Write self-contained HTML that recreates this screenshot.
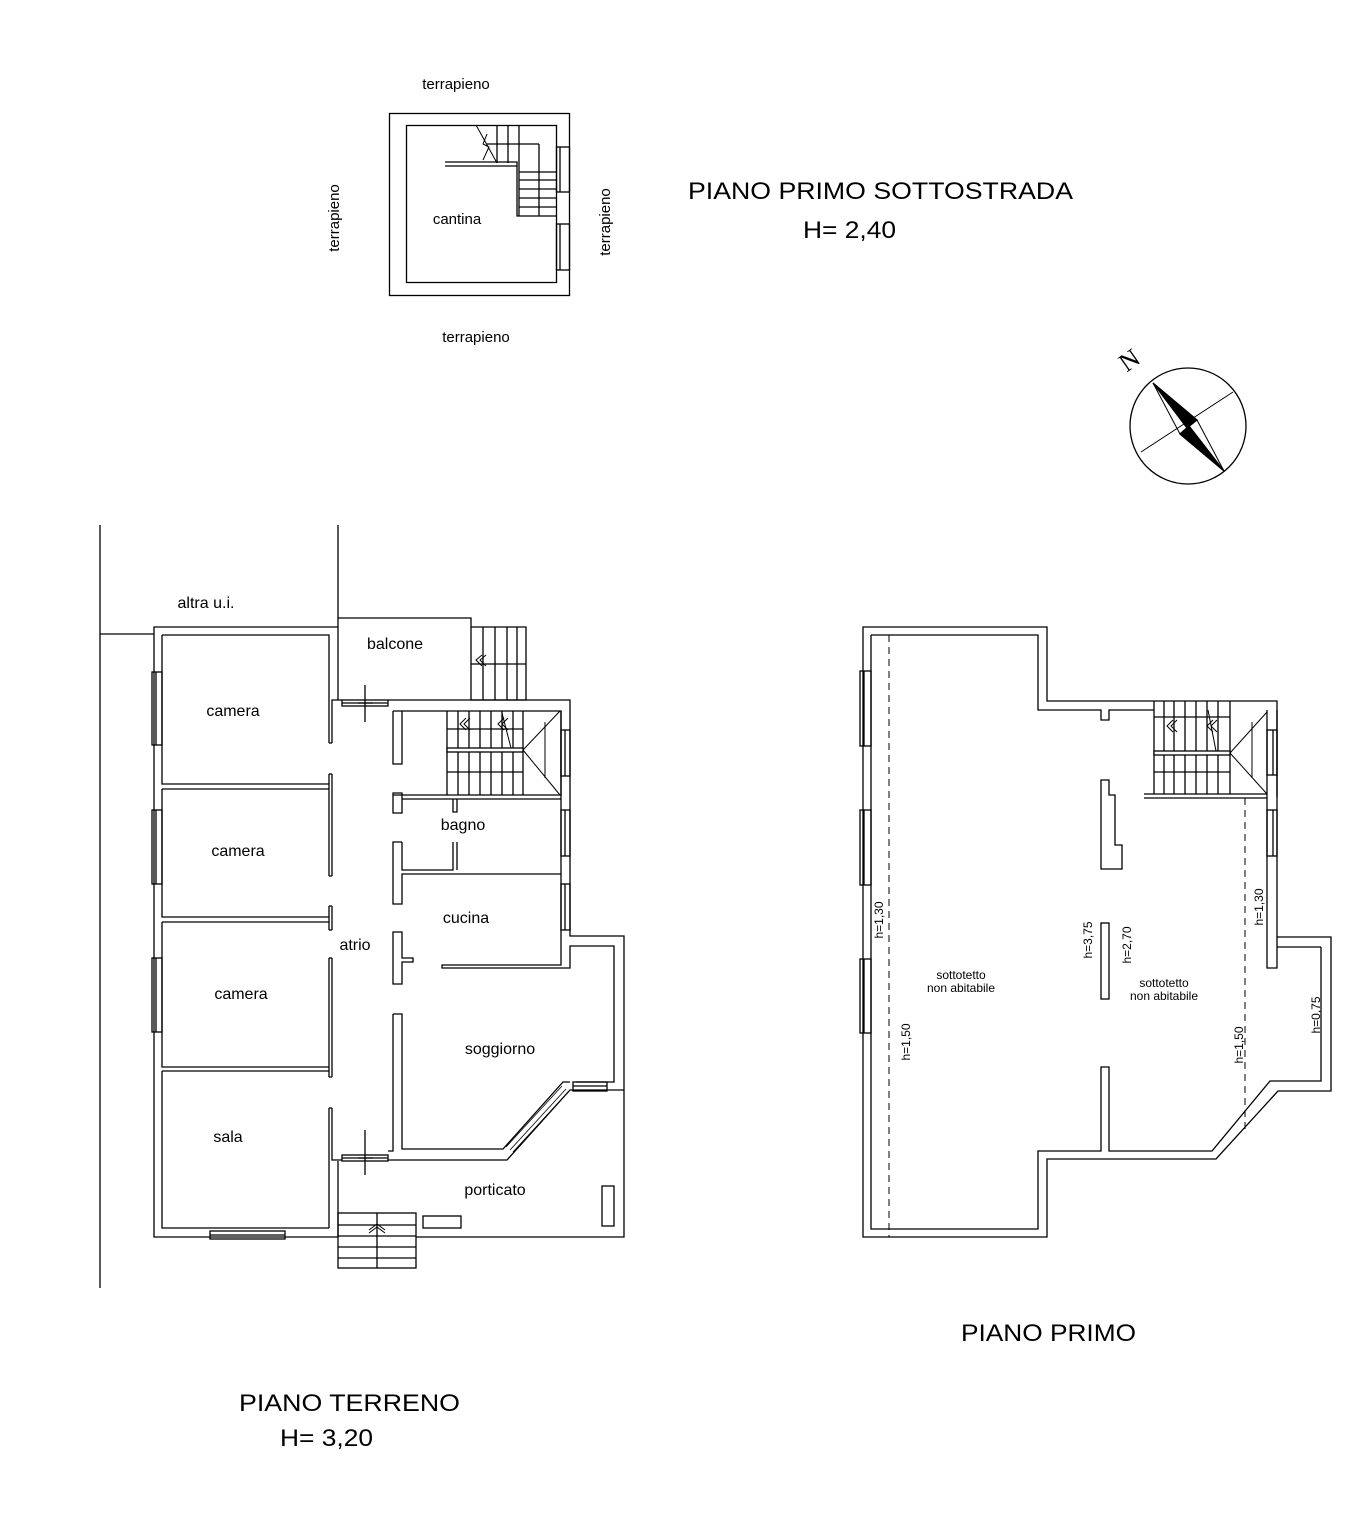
<!DOCTYPE html>
<html><head><meta charset="utf-8"><style>
html,body{margin:0;padding:0;background:#fff}
svg{display:block}
text{font-family:"Liberation Sans",sans-serif;fill:#000}
</style></head><body>
<svg width="1350" height="1535" viewBox="0 0 1350 1535" xmlns="http://www.w3.org/2000/svg">
<g fill="none" stroke="#000" stroke-width="1.3">
<!-- ===== CANTINA ===== -->
<rect x="389.5" y="113.5" width="180" height="182"/>
<rect x="406.5" y="125.5" width="150" height="157"/>
<path d="M445 162H517V216H556M445 166H517M497 125V163M508 125V163M519 125V216M539 144V216M487 144H539M519 172H556M519 180H556M519 189H556M519 198H556M519 207H556"/>
<path d="M476 125L497 163M487 134L483 144L489 147L483 160" stroke-width="1"/>
<rect x="556.5" y="147" width="13" height="45"/><line x1="560" y1="147" x2="560" y2="192"/>
<rect x="556.5" y="224" width="13" height="46"/><line x1="560" y1="224" x2="560" y2="270"/>

<!-- ===== GROUND FLOOR ===== -->
<path d="M100 525V1288M338 525V618M100 634H154"/>
<path d="M338 627H154V1237H338"/>
<path d="M162 635H329V743M329 774V876M329 906V930M329 958V1077M329 1108V1228"/>
<path d="M162 635V784H329M162 789H329M162 789V917H329M162 922H329M162 922V1067H329M162 1071H329M162 1071V1228H329"/>
<path d="M332 743V700H342M332 774V876M332 906V930M332 958V1077M332 1108V1160H342M329 743H332M329 774H332M329 876H332M329 906H332M329 930H332M329 958H332M329 1077H332M329 1108H332"/>
<!-- balcone -->
<path d="M338 700V618H471V700M471 627H526V700H471"/>
<path d="M483 627V700M495 627V700M507 627V700M517 627V700M471 664H526"/>
<path d="M482 655L476 660L482 666M486 655L480 660L486 666" stroke-width="1"/>
<rect x="342" y="700" width="46" height="6"/><line x1="342" y1="703" x2="388" y2="703"/>
<path d="M365 685V722M358 703H373"/>
<!-- right block -->
<path d="M388 700H570V936H624V1237H416"/>
<path d="M393 711H561V795H393M393 711V764H402V711M393 793H402V813H393Z"/>
<path d="M402 799H561M402 842H393V904H402V874H561M402 842V870H453V842M457 799V812H453V799M457 842V870"/>
<path d="M561 711V965H442V968H570V946H614V1082H576"/>
<path d="M393 932H402V958H413V962H402V984H393Z"/>
<path d="M393 1014H402V1149H503L563 1082H570"/>
<path d="M393 1014V1151H388M388 1160H507L570 1090H624"/>
<path d="M506 1147L562 1086M510 1150L566 1089M513 1152L569 1091" stroke-width="0.8"/>
<rect x="573" y="1082" width="34" height="9"/><line x1="573" y1="1086" x2="607" y2="1086"/>
<rect x="342" y="1155" width="46" height="6"/><line x1="342" y1="1158" x2="388" y2="1158"/>
<path d="M365 1130V1175M358 1158H373"/>
<path d="M338 1161V1237"/>
<!-- stairs interior -->
<path d="M447 711V795M458 711V795M469 711V795M480 711V795M491 711V795M502 711V795M513 711V795M523 711V795M447 729H523M447 772H523"/>
<rect x="447" y="748" width="76" height="4" fill="#fff"/>
<path d="M523 750L560 711M523 750L560 795M545 722V778M502 713L511 748" stroke-width="1"/>
<path d="M466 718L460 724L466 730M470 718L464 724L470 730M504 718L498 724L504 730M508 718L502 724L508 730" stroke-width="1"/>
<!-- windows ground -->
<rect x="152" y="672" width="10" height="73"/><line x1="156" y1="672" x2="156" y2="745"/>
<rect x="152" y="810" width="10" height="74"/><line x1="156" y1="810" x2="156" y2="884"/>
<rect x="152" y="958" width="10" height="74"/><line x1="156" y1="958" x2="156" y2="1032"/>
<rect x="210" y="1231" width="75" height="8"/><line x1="210" y1="1235" x2="285" y2="1235"/>
<rect x="561" y="730" width="9" height="46"/><line x1="565" y1="730" x2="565" y2="776"/>
<rect x="561" y="810" width="9" height="46"/><line x1="565" y1="810" x2="565" y2="856"/>
<rect x="561" y="884" width="9" height="46"/><line x1="565" y1="884" x2="565" y2="930"/>
<!-- porticato -->
<rect x="338" y="1213" width="78" height="55"/>
<path d="M338 1225H416M338 1236H416M338 1247H416M338 1258H416M377 1213V1268"/>
<path d="M369 1230L377 1224L385 1230M369 1233L377 1227L385 1233" stroke-width="1"/>
<rect x="423" y="1216" width="38" height="12"/>
<rect x="602" y="1186" width="12" height="40"/>

<!-- ===== FIRST FLOOR ===== -->
<path d="M863 627H1047V701H1277V937H1331V1091L1278 1091L1216 1159H1047V1237H863Z"/>
<path d="M871 635H1038V710H1101V720H1109V710H1154"/>
<path d="M1267 710V797M1267 810V856M1267 797V968H1277V937M1277 710V797"/>
<path d="M1321 947H1277M1321 947V1081H1270L1212 1151H1109V1067H1101V1151H1038V1229H871V635"/>
<path d="M1154 701V794M1144 794H1267M1144 798H1245M1245 798H1267"/>
<path d="M1164 701V794M1174 701V794M1185 701V794M1196 701V794M1207 701V794M1218 701V794M1230 701V794M1154 717H1230M1154 772H1230"/>
<rect x="1154" y="751" width="76" height="4" fill="#fff"/>
<path d="M1230 753L1267 712M1230 753L1267 794M1252 722V778M1208 710L1216 751" stroke-width="1"/>
<path d="M1173 720L1167 726L1173 732M1177 720L1171 726L1177 732M1213 720L1207 726L1213 732M1217 720L1211 726L1217 732" stroke-width="1"/>
<path d="M1101 780H1109V795H1115V845H1122V869H1101Z"/>
<rect x="1101" y="923" width="8" height="76"/>
<path d="M889 635V1237M1245 798V1130" stroke-dasharray="7,5" stroke-width="1"/>
<rect x="860" y="671" width="11" height="75"/><line x1="864" y1="671" x2="864" y2="746"/>
<rect x="860" y="810" width="11" height="75"/><line x1="864" y1="810" x2="864" y2="885"/>
<rect x="860" y="959" width="11" height="74"/><line x1="864" y1="959" x2="864" y2="1033"/>
<rect x="1267" y="730" width="10" height="45"/><line x1="1273" y1="730" x2="1273" y2="775"/>
<rect x="1267" y="810" width="10" height="46"/><line x1="1273" y1="810" x2="1273" y2="856"/>

<!-- ===== COMPASS ===== -->
<circle cx="1188" cy="426" r="58"/>
<path d="M1141 452L1233 392" stroke-width="1"/>
<path d="M1153 383L1197 420L1224 471L1180 434Z" stroke-width="1"/>
<path d="M1153 383L1197 420L1187 428Z" fill="#000"/>
<path d="M1224 471L1180 434L1189 426Z" fill="#000"/>
</g>
<text x="1132" y="368" font-size="26" transform="rotate(-35 1132 364)" text-anchor="middle" style="font-family:'Liberation Serif',serif">N</text>

<g font-size="15" text-anchor="middle">
<text x="456" y="89">terrapieno</text>
<text x="476" y="342">terrapieno</text>
<text x="457" y="224">cantina</text>
<text transform="translate(339 218) rotate(-90)">terrapieno</text>
<text transform="translate(610 222) rotate(-90)">terrapieno</text>
</g>
<g font-size="16" text-anchor="middle">
<text x="206" y="608">altra u.i.</text>
<text x="395" y="649">balcone</text>
<text x="233" y="716">camera</text>
<text x="238" y="856">camera</text>
<text x="241" y="999">camera</text>
<text x="228" y="1142">sala</text>
<text x="355" y="950">atrio</text>
<text x="463" y="830">bagno</text>
<text x="466" y="923">cucina</text>
<text x="500" y="1054">soggiorno</text>
<text x="495" y="1195">porticato</text>
</g>
<g font-size="12" text-anchor="middle">
<text x="961" y="979">sottotetto</text>
<text x="961" y="992">non abitabile</text>
<text x="1164" y="987">sottotetto</text>
<text x="1164" y="1000">non abitabile</text>
<text transform="translate(883 920) rotate(-90)">h=1,30</text>
<text transform="translate(910 1042) rotate(-90)">h=1,50</text>
<text transform="translate(1092 940) rotate(-90)">h=3,75</text>
<text transform="translate(1131 945) rotate(-90)">h=2,70</text>
<text transform="translate(1263 907) rotate(-90)">h=1,30</text>
<text transform="translate(1243 1045) rotate(-90)">h=1,50</text>
<text transform="translate(1320 1015) rotate(-90)">h=0,75</text>
</g>
<g font-size="24">
<text x="688" y="199" textLength="385" lengthAdjust="spacingAndGlyphs">PIANO PRIMO SOTTOSTRADA</text>
<text x="803" y="238" textLength="93" lengthAdjust="spacingAndGlyphs">H= 2,40</text>
<text x="961" y="1341" textLength="175" lengthAdjust="spacingAndGlyphs">PIANO PRIMO</text>
<text x="239" y="1411" textLength="221" lengthAdjust="spacingAndGlyphs">PIANO TERRENO</text>
<text x="280" y="1446" textLength="93" lengthAdjust="spacingAndGlyphs">H= 3,20</text>
</g>
</svg>
</body></html>
